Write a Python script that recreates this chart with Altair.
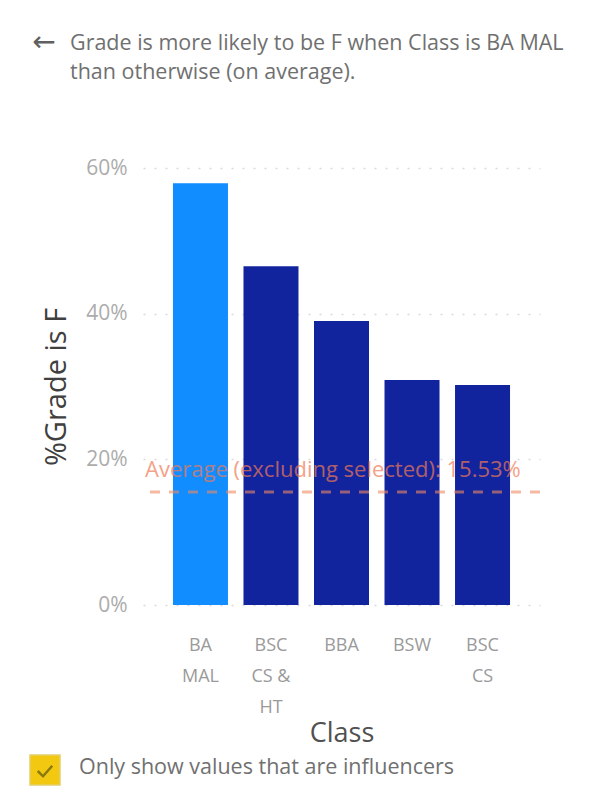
import altair as alt
import pandas as pd

classes = ["BA MAL", "BSC CS & HT", "BBA", "BSW", "BSC CS"]
label_lines = [["BA", "MAL"], ["BSC", "CS &", "HT"], ["BBA"], ["BSW"], ["BSC", "CS"]]
pct_f = [0.579, 0.465, 0.390, 0.309, 0.302]
selected = ["yes", "no", "no", "no", "no"]
average_excl = 0.1553
y_ticks = [0, 0.2, 0.4, 0.6]

title_lines = ["Grade is more likely to be F when Class is BA MAL",
               "than otherwise (on average)."]
checkbox_text = "Only show values that are influencers"

FONT = "Open Sans"
W, H = 397, 437

df = pd.DataFrame({"Class": classes, "pct": pct_f, "sel": selected})
avg_df = pd.DataFrame({"pct": [average_excl],
                       "lbl": [f"Average (excluding selected): {average_excl*100:.2f}%"]})

label_map = "{" + ",".join(
    "'" + c + "':[" + ",".join("'" + l + "'" for l in ls) + "]"
    for c, ls in zip(classes, label_lines)) + "}"

x_enc = alt.X("Class:N", sort=classes, title="Class",
              scale=alt.Scale(paddingInner=0.22, paddingOuter=0.425),
              axis=alt.Axis(labelAngle=0, labelExpr=label_map + "[datum.value]",
                            labelFont=FONT, labelFontSize=18, labelColor="#9a9a9a",
                            labelLineHeight=31, labelBaseline="top", labelPadding=31,
                            ticks=False, domain=False, grid=False,
                            titleFont=FONT, titleFontSize=27, titleFontWeight="normal",
                            titleColor="#505050", titleBaseline="middle", titleY=128))
y_scale = alt.Scale(domain=[0, 0.6], nice=False)
y_enc = alt.Y("pct:Q", title="%Grade is F", scale=y_scale,
              axis=alt.Axis(values=y_ticks, format=".0%", labelFont=FONT,
                            labelFontSize=21, labelColor="#acacac", labelPadding=16,
                            ticks=False, domain=False, grid=True, gridColor="#dadada",
                            gridDash=[2, 9], gridWidth=1.5,
                            titleFont=FONT, titleFontSize=29, titleFontWeight="normal",
                            titleColor="#404040", titleAngle=-90, titleX=-87,
                            titleY=H / 2, titleAlign="center", titleBaseline="middle"))

bars = alt.Chart(df).mark_bar().encode(
    x=x_enc, y=y_enc,
    color=alt.Color("sel:N", scale=alt.Scale(domain=["yes", "no"],
                                             range=["#118DFF", "#12239E"]), legend=None),
)

rule = alt.Chart(avg_df).mark_rule(color="#F08A62", opacity=0.6, strokeWidth=3,
                                   strokeDash=[10, 9]).encode(
    y=alt.Y("pct:Q", scale=y_scale))
avg_text = alt.Chart(avg_df).mark_text(align="left", baseline="middle", font=FONT,
                                       fontSize=22, color="#F07A55", opacity=0.7,
                                       dy=-22).encode(
    y=alt.Y("pct:Q", scale=y_scale), x=alt.value(2), text="lbl:N")

title1 = alt.Chart(pd.DataFrame({"t": [title_lines[0]]})).mark_text(
    align="left", baseline="middle", font=FONT, fontSize=21.5,
    color="#707070").encode(x=alt.value(-73), y=alt.value(-124), text="t:N")
title2 = alt.Chart(pd.DataFrame({"t": [title_lines[1]]})).mark_text(
    align="left", baseline="middle", font=FONT, fontSize=21.5,
    color="#707070").encode(x=alt.value(-73), y=alt.value(-95), text="t:N")
arrow = alt.Chart(pd.DataFrame({"t": ["←"]})).mark_text(
    align="center", baseline="middle", font="DejaVu Sans", fontSize=28,
    color="#606060").encode(x=alt.value(-99), y=alt.value(-125), text="t:N")

cb = alt.Chart(pd.DataFrame({"k": [1]})).mark_point(
    shape="square", size=900, filled=True, fill="#F2C811", opacity=1,
    stroke="#e3cf6a", strokeWidth=1.5).encode(x=alt.value(-98), y=alt.value(602))
check = alt.Chart(pd.DataFrame({"k": [1]})).mark_point(
    shape="M-0.55,0 L-0.15,0.4 L0.55,-0.4", size=700, filled=False,
    stroke="#8a7a10", strokeWidth=2.5, opacity=1).encode(x=alt.value(-98), y=alt.value(603))
cb_text = alt.Chart(pd.DataFrame({"t": [checkbox_text]})).mark_text(
    align="left", baseline="middle", font=FONT, fontSize=21.5,
    color="#707070").encode(x=alt.value(-64), y=alt.value(600), text="t:N")

chart = alt.layer(bars, rule, avg_text, title1, title2, arrow, cb, check, cb_text).properties(
    width=W, height=H,
    padding={"left": 135, "top": 160, "right": 64, "bottom": 199},
    autosize=alt.AutoSizeParams(type="none"),
).configure(background="white", view=alt.ViewConfig(stroke="transparent", strokeWidth=0))

chart.save("out.html", embed_options={"renderer": "svg", "actions": False})
